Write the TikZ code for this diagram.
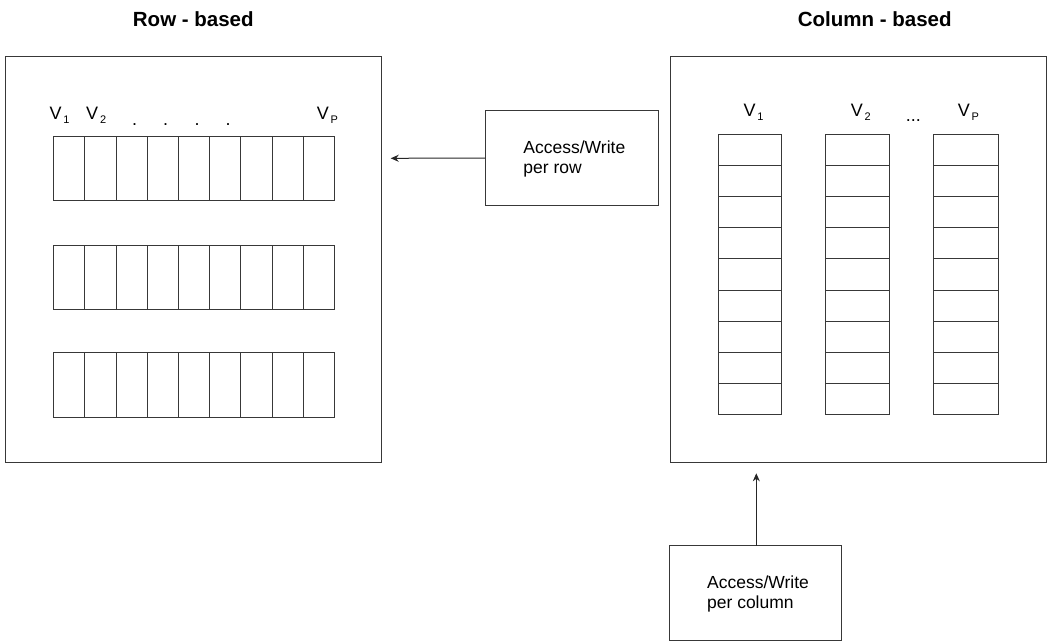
\documentclass[tikz,border=0pt]{standalone}
\usepackage{fontspec}
\setmainfont{Liberation Sans}
\usetikzlibrary{arrows.meta}
\newcommand{\vsub}[1]{\kern1.8pt\raisebox{-4pt}{\fontsize{11}{11}\selectfont #1}}
\begin{document}
\begin{tikzpicture}[x=1pt,y=-1pt,
  lines/.style={draw=black!78, line width=0.9pt},
  frame/.style={lines, rectangle, inner sep=0pt, outer sep=0pt, anchor=north west},
  rcell/.style={frame, minimum width=31.2pt, minimum height=64.5pt},
  ccell/.style={frame, minimum height=31.16pt},
  title/.style={font=\fontsize{20.5}{24}\selectfont\bfseries, anchor=base, inner sep=0pt},
  vlab/.style={font=\fontsize{18}{20}\selectfont, anchor=base west, inner sep=0pt},
  dotlab/.style={font=\fontsize{18}{20}\selectfont, anchor=base, inner sep=0pt},
  note/.style={font=\fontsize{17.5}{20.5}\selectfont, align=left, inner sep=0pt},
  conn/.style={draw=black!85, line width=1pt, -{Stealth[length=8pt,width=7pt]}}
]
\useasboundingbox (0,0) rectangle (1047,641);

% titles
\node[title] (trow) at (193.3,26.7) {Row - based};
\node[title] (tcol) at (874.7,26.7) {Column - based};

% left frame
\node[frame, minimum width=376.5pt, minimum height=406.5pt] (lbox) at (5,56) {};
\foreach \r/\y in {1/136,2/245,3/352.5}
  \foreach \c in {1,...,9}
    \node[rcell] (r\r c\c) at ({53.7+(\c-1)*31.2},\y) {};

\node[vlab] (lv1) at (49.3,119) {V\vsub{1}};
\node[vlab] (lv2) at (86,119) {V\vsub{2}};
\node[vlab] (lvp) at (316.7,119) {V\vsub{P}};
\foreach \i/\x in {1/134.5,2/165.5,3/197,4/228}
  \node[dotlab] (ld\i) at (\x,125.5) {.};

% right frame
\node[frame, minimum width=376pt, minimum height=406pt] (rbox) at (670,56) {};
\foreach \k/\x/\w in {1/718/63,2/825.3/64,3/933.7/64.3}
  \foreach \c in {1,...,9}
    \node[ccell, minimum width=\w pt] (k\k c\c) at (\x,{134.3+(\c-1)*31.16}) {};

\node[vlab] (rv1) at (743.3,116.7) {V\vsub{1}};
\node[vlab] (rv2) at (850.7,116.7) {V\vsub{2}};
\node[vlab] (rvp) at (957.7,116.7) {V\vsub{P}};
\node[dotlab] (rdots) at (913.3,121.5) {...};

% access boxes
\node[frame, minimum width=173.7pt, minimum height=94.6pt] (arow) at (485,110.7) {};
\node[note] (tarow) at ([xshift=2.5pt,yshift=-1pt]arow.center) {Access/Write\\per row};
\node[frame, minimum width=172.4pt, minimum height=94.3pt] (acol) at (669.3,545.7) {};
\node[note] (tacol) at ([xshift=2.5pt,yshift=-1pt]acol.center) {Access/Write\\per column};

% connectors
\coordinate (rowtip) at (390.7,158.3);
\coordinate (coltip) at (756.3,473.3);
\draw[conn] (arow.west) -- (rowtip);
\draw[conn] (acol.north -| coltip) -- (coltip);
\end{tikzpicture}
\end{document}
